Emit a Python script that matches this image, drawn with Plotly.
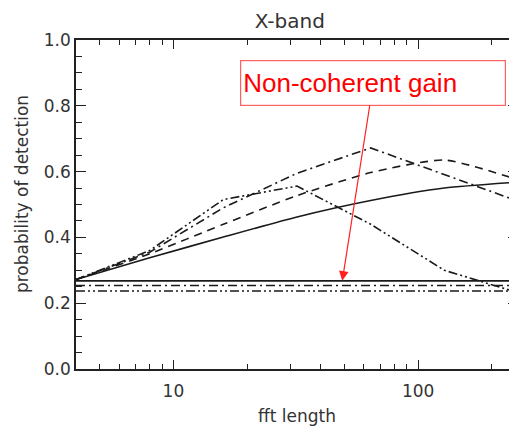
import math
import plotly.graph_objects as go

fft_len = [4, 8, 16, 32, 64, 128, 256]
solid_curve = [0.272, 0.338, 0.401, 0.462, 0.512, 0.55, 0.568]
dash_curve = [0.272, 0.35, 0.44, 0.527, 0.597, 0.635, 0.575]
dashdot_curve = [0.272, 0.355, 0.49, 0.595, 0.672, 0.59, 0.51]
dashdotdot_curve = [0.272, 0.36, 0.515, 0.556, 0.44, 0.30, 0.232]
flat_x = [4, 256]
solid_flat = [0.268, 0.268]
dashdot_flat = [0.254, 0.254]
dashdotdot_flat = [0.237, 0.237]

x_major = [10, 100]
x_minor = [5, 6, 7, 8, 9, 20, 30, 40, 50, 60, 70, 80, 90, 200]

line_col = "#1a1a1a"
dd = "9px,4px,2px,4px"
ddd = "9px,3px,2px,3px,2px,3px"

fig = go.Figure()
series = [
    (solid_curve, "solid", "spline"),
    (dash_curve, "8px,6px", "spline"),
    (dashdot_curve, dd, "linear"),
    (dashdotdot_curve, ddd, "linear"),
]
for ys, dash, shp in series:
    fig.add_trace(go.Scatter(x=fft_len, y=ys, mode="lines",
                             line=dict(color=line_col, width=1.6, dash=dash, shape=shp, smoothing=0.6),
                             showlegend=False))
for ys, dash in [(solid_flat, "solid"), (dashdot_flat, dd), (dashdotdot_flat, ddd)]:
    fig.add_trace(go.Scatter(x=flat_x, y=ys, mode="lines",
                             line=dict(color=line_col, width=1.6, dash=dash),
                             showlegend=False))

axis_col = "#222"
fig.update_layout(
    width=517, height=426,
    margin=dict(l=68, r=7, t=32, b=65, autoexpand=False),
    paper_bgcolor="white", plot_bgcolor="white",
    font=dict(family="DejaVu Sans", color="#333", size=16),
    title=dict(text="X-band", x=0.545, xanchor="center", y=0.969, yanchor="middle",
               font=dict(size=20, color="#333")),
    xaxis=dict(type="log", range=[math.log10(4), math.log10(256)],
               tickvals=x_major, ticktext=["10", "100"],
               ticks="inside", ticklen=9, tickwidth=1.3, tickcolor=axis_col,
               minor=dict(tickvals=x_minor, ticks="inside", ticklen=5, tickwidth=1.3, tickcolor=axis_col),
               showline=True, linecolor=axis_col, linewidth=1.5, mirror="allticks",
               showgrid=False, zeroline=False, automargin=False,
               ticklabelstandoff=6,
               title=dict(text="fft length", font=dict(size=17), standoff=10),
               tickfont=dict(size=17)),
    yaxis=dict(range=[0, 1], dtick=0.2, tickformat=".1f",
               ticks="inside", ticklen=10, tickwidth=1.3, tickcolor=axis_col,
               minor=dict(dtick=0.05, ticks="inside", ticklen=6, tickwidth=1.3, tickcolor=axis_col),
               showline=True, linecolor=axis_col, linewidth=1.5, mirror="allticks",
               showgrid=False, zeroline=False, automargin=False,
               tickfont=dict(size=17)),
)

fig.add_annotation(
    x=-0.122, y=0.532, xref="paper", yref="paper",
    text="probability of detection", textangle=-90, showarrow=False,
    font=dict(size=17, color="#333"), xanchor="center", yanchor="middle",
)

fig.add_annotation(
    x=math.log10(49), y=0.268, xref="x", yref="y",
    text="Non-coherent gain", showarrow=True,
    ax=31, ay=-198, axref="pixel", ayref="pixel",
    arrowcolor="#ff2020", arrowwidth=1.2, arrowhead=2, arrowsize=1.6,
    font=dict(family="Liberation Sans", size=26, color="#ff0000"),
    bordercolor="#ff6060", borderwidth=1.2, borderpad=2,
    bgcolor="white", width=260, height=40, align="left",
)

fig.write_html("out.html")
